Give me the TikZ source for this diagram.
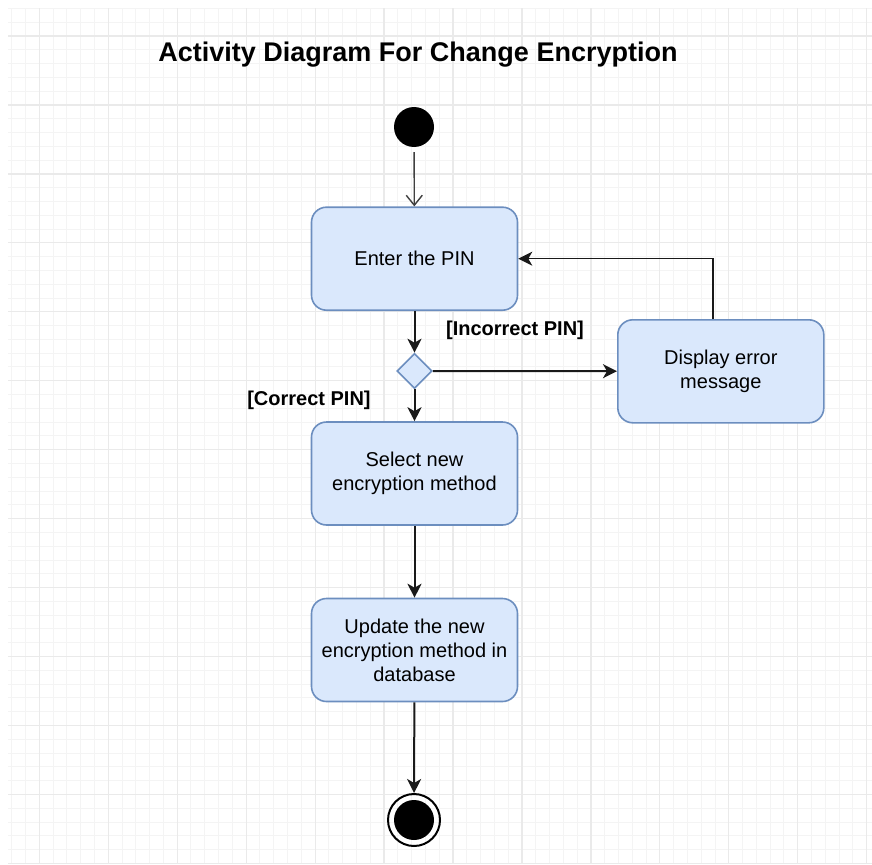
\documentclass[tikz,border=0pt]{standalone}
\usepackage{fontspec}
\setmainfont{Liberation Sans}
\usetikzlibrary{shapes.geometric,arrows.meta}

\definecolor{gridminor}{HTML}{F4F4F4}
\definecolor{gridmajor}{HTML}{EAEAEA}
\definecolor{actfill}{HTML}{DAE8FC}
\definecolor{actline}{HTML}{6C8EBF}

\tikzset{
  activity/.style={rectangle, rounded corners=15pt, draw=actline, fill=actfill,
    line width=1.6pt, minimum width=206pt, minimum height=103pt, align=center,
    font=\fontsize{20}{24}\selectfont, inner sep=2pt},
  decision/.style={diamond, aspect=1, draw=actline, fill=actfill, line width=1.6pt,
    minimum size=35pt, inner sep=0pt},
  startnode/.style={circle, fill=black, minimum size=40pt, inner sep=0pt},
  endnode/.style={circle, draw=black, line width=2pt, minimum size=52pt, inner sep=0pt,
    path picture={\fill[black] (path picture bounding box.center) circle (20pt);}},
  guard/.style={font=\bfseries\fontsize{20}{24}\selectfont, inner sep=0pt},
  flow/.style={line width=2pt, draw=black!90, -{Stealth[length=14pt, width=14pt, inset=4pt]}},
  backflow/.style={line width=1.5pt, draw=black!90, -{Stealth[length=14pt, width=14pt, inset=4pt]}},
  openflow/.style={line width=1.4pt, draw=black!75, -{Straight Barb[length=10pt, width=16pt, line width=1.4pt]}},
}

\begin{document}
\begin{tikzpicture}[x=1pt, y=-1pt]
  \useasboundingbox (0,0) rectangle (872,864);
  \fill[white] (0,0) rectangle (872,864);

  % background grid
  \begin{scope}
    \clip (8,9) rectangle (872,864);
    \foreach \i in {0,...,63} {
      \draw[gridminor, line width=1pt] ({11.72+13.79*\i},0) -- ({11.72+13.79*\i},864);
      \draw[gridminor, line width=1pt] (0,{8.42+13.79*\i}) -- (872,{8.42+13.79*\i});
    }
    \foreach \i in {0,...,12} {
      \draw[gridmajor, line width=1.2pt] ({39.3+68.95*\i},0) -- ({39.3+68.95*\i},864);
      \draw[gridmajor, line width=1.2pt] (0,{36+68.95*\i}) -- (872,{36+68.95*\i});
    }
  \end{scope}

  % title
  \node[font=\bfseries\fontsize{27}{32}\selectfont] (title) at (418,54.5) {Activity Diagram For Change Encryption};

  % activity nodes
  \node[startnode] (start) at (414,127) {};
  \node[activity] (enter) at (414.5,258.7) {Enter the PIN};
  \node[decision] (check) at (414.5,371) {};
  \node[activity] (error) at (720.8,371.3) {Display error\\message};
  \node[activity] (select) at (414.5,473.5) {Select new\\encryption method};
  \node[activity] (update) at (414.5,650) {Update the new\\encryption method in\\database};
  \node[endnode] (finish) at (414,820) {};

  % guards
  \node[guard] (gwrong) at (515,330) {[Incorrect PIN]};
  \node[guard] (gright) at (309,400) {[Correct PIN]};

  % control flow
  \draw[openflow, shorten <=5pt] (start) -- (enter);
  \draw[flow] (enter) -- (check);
  \draw[flow] (check) -- (error);
  \draw[flow] (check) -- (select);
  \draw[flow] (select) -- (update);
  \draw[flow] (update) -- (finish);
  \draw[backflow] ([xshift=-8pt]error.north) |- (enter.east);
\end{tikzpicture}
\end{document}
